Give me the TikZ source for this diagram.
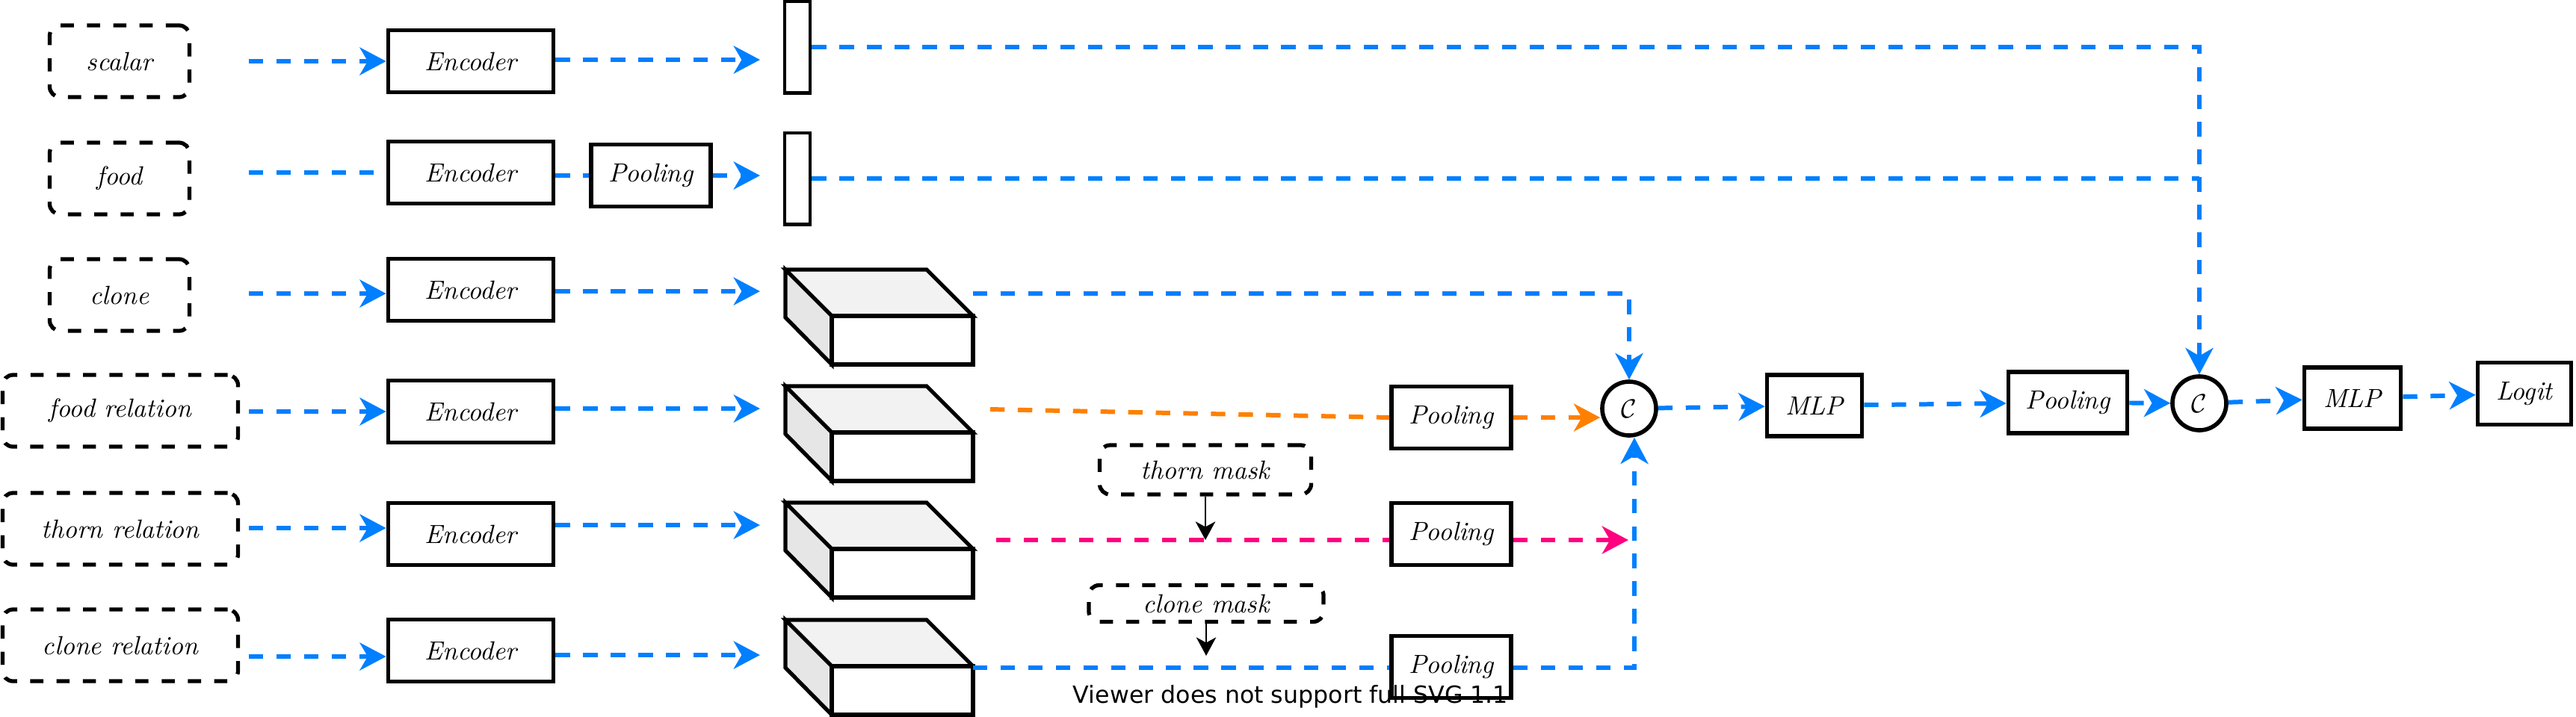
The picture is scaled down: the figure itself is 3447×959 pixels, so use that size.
\documentclass[tikz,border=0pt]{standalone}
\usepackage{fontspec}
\usetikzlibrary{arrows.meta}
\newfontfamily\dejavu{DejaVu Sans}
\definecolor{ablue}{RGB}{0,127,255}
\definecolor{aorange}{RGB}{255,128,0}
\definecolor{apink}{RGB}{255,0,128}
\definecolor{topface}{RGB}{242,242,242}
\definecolor{sideface}{RGB}{230,230,230}
\tikzset{
  inbox/.style={draw, line width=1.5pt, dash pattern=on 5pt off 5pt, rounded corners=4pt,
    minimum height=0.96cm, inner sep=0pt, font=\itshape},
  maskbox/.style={draw, line width=1.5pt, dash pattern=on 5pt off 5pt, rounded corners=4pt,
    inner sep=0pt, font=\itshape},
  blk/.style={draw, line width=1.6pt, minimum height=0.83cm, inner sep=0pt, font=\itshape, fill=white},
  encbox/.style={blk, minimum width=2.21cm},
  poolbox/.style={blk, minimum width=1.60cm},
  barbox/.style={draw, line width=1.4pt, minimum width=0.34cm, minimum height=1.22cm, inner sep=0pt},
  cnode/.style={draw, circle, line width=1.6pt, minimum size=0.72cm, inner sep=0pt},
  flow/.style={line width=1.7pt, dash pattern=on 5.5pt off 5pt},
  bflow/.style={flow, ablue},
  oflow/.style={flow, aorange},
  pflow/.style={flow, apink},
  tip/.style={-{Stealth[length=10pt,width=10.5pt,inset=3pt]}},
  thin/.style={black, line width=0.8pt, -{Stealth[length=7pt,width=7.5pt,inset=2pt]}},
  cubeline/.style={line width=1.5pt},
}
\newcommand{\drawcube}[2]{%
  \filldraw[cubeline, fill=topface] (#1,#2) -- ++(189,0) -- ++(62,62) -- ++(-189,0) -- cycle;
  \filldraw[cubeline, fill=sideface] (#1,#2) -- ++(62,62) -- ++(0,65) -- ++(-62,-63) -- cycle;
  \filldraw[cubeline, fill=white] (#1+62,#2+62) rectangle ++(189,65);
}
\begin{document}
\begin{tikzpicture}[x=0.01cm,y=-0.01cm]
\useasboundingbox (0,0) rectangle (3447,959);

% inputs
\node[inbox, minimum width=1.87cm] (in1) at (160,82) {scalar};
\node[inbox, minimum width=1.87cm] (in2) at (160,239) {food};
\node[inbox, minimum width=1.87cm] (in3) at (160,395) {clone};
\node[inbox, minimum width=3.15cm] (in4) at (161,550) {food relation};
\node[inbox, minimum width=3.15cm] (in5) at (161,708) {thorn relation};
\node[inbox, minimum width=3.15cm] (in6) at (161,864) {clone relation};

% encoders
\node[encbox] (e1) at (630,82) {Encoder};
\node[encbox] (e2) at (630,231) {Encoder};
\node[encbox] (e3) at (630,388) {Encoder};
\node[encbox] (e4) at (630,551) {Encoder};
\node[encbox] (e5) at (630,715) {Encoder};
\node[encbox] (e6) at (630,871) {Encoder};

\node[poolbox] (pool1) at (871,235) {Pooling};

% bars
\node[barbox] (bar1) at (1067,63) {};
\node[barbox] (bar2) at (1067,239) {};

% cubes
\drawcube{1051}{361}
\drawcube{1051}{517}
\drawcube{1051}{673}
\drawcube{1051}{830}

% coordinates
\coordinate (a1) at (333,82);
\coordinate (a2) at (333,231);
\coordinate (a3) at (333,393);
\coordinate (a4) at (333,551);
\coordinate (a5) at (333,707);
\coordinate (a6) at (333,879);
\coordinate (t1) at (1017,80);
\coordinate (t2) at (1017,235);
\coordinate (t3) at (1017,390);
\coordinate (t4) at (1017,547);
\coordinate (t5) at (1017,703);
\coordinate (t6) at (1017,877);
\coordinate (o3) at (1302,393);
\coordinate (o4) at (1325,548);
\coordinate (o5) at (1333,723);
\coordinate (o6) at (1302,894);
\coordinate (pk) at (2179,723);
\coordinate (cmt) at (1614,878);

% middle column
\node[poolbox] (pool4) at (1942,559) {Pooling};
\node[poolbox] (pool5) at (1942,715) {Pooling};
\node[poolbox] (pool6) at (1942,893) {Pooling};
\node[maskbox, minimum width=2.83cm, minimum height=0.66cm] (tm) at (1613,629) {thorn mask};
\node[maskbox, minimum width=3.14cm, minimum height=0.49cm] (cm) at (1614,808) {clone mask};

% right chain
\node[cnode] (c1) at (2180,547) {$\mathcal{C}$};
\node[blk, minimum width=1.27cm, minimum height=0.82cm] (mlp1) at (2428,543) {MLP};
\node[blk, minimum width=1.59cm, minimum height=0.82cm] (pool7) at (2767,539) {Pooling};
\node[cnode] (c2) at (2943,540) {$\mathcal{C}$};
\node[blk, minimum width=1.29cm, minimum height=0.82cm] (mlp2) at (3148,533) {MLP};
\node[blk, minimum width=1.25cm, minimum height=0.83cm] (logit) at (3378,527) {Logit};

% input -> encoder
\draw[bflow, tip] (a1) -- (a1 -| e1.west);
\draw[bflow, shorten >=0.17cm] (a2) -- (a2 -| e2.west);
\draw[bflow, tip] (a3) -- (a3 -| e3.west);
\draw[bflow, tip] (a4) -- (a4 -| e4.west);
\draw[bflow, tip] (a5) -- (a5 -| e5.west);
\draw[bflow, tip] (a6) -- (a6 -| e6.west);

% encoder -> features
\draw[bflow, tip] (e1.east |- t1) -- (t1);
\draw[bflow] (e2.east |- pool1) -- (pool1.west);
\draw[bflow, tip] (pool1.east |- t2) -- (t2);
\draw[bflow, tip] (e3.east |- t3) -- (t3);
\draw[bflow, tip] (e4.east |- t4) -- (t4);
\draw[bflow, tip] (e5.east |- t5) -- (t5);
\draw[bflow, tip] (e6.east |- t6) -- (t6);

% long lines to C2
\draw[bflow, tip] (bar1.east) -| (c2.north);
\draw[bflow] (bar2.east) -- (bar2.east -| c2.north);

% cubes -> C1
\draw[bflow, tip] (o3) -| (c1.north);
\draw[oflow] (o4) -- (pool4.west);
\draw[oflow, tip] (pool4.east) -- (pool4.east -| c1.west);
\draw[pflow] (o5) -- (o5 -| pool5.west);
\draw[pflow, tip] (pool5.east |- o5) -- (pk);
\draw[bflow] (o6) -- (o6 -| pool6.west);
\draw[bflow, tip] (pool6.east |- o6) -| ([xshift=0.07cm]c1.south);

% masks
\draw[thin] (tm.south) -- (tm.south |- o5);
\draw[thin] (cm.south) -- (cmt);

% right chain
\draw[bflow, tip] (c1) -- (mlp1);
\draw[bflow, tip] (mlp1) -- (pool7);
\draw[bflow, tip] (pool7) -- (c2);
\draw[bflow, tip] (c2) -- (mlp2);
\draw[bflow, tip] (mlp2) -- (logit);

\node[font=\dejavu\fontsize{9}{11}\selectfont, inner sep=0pt] (svgnote) at (1727,933) {Viewer does not support full SVG 1.1};
\end{tikzpicture}
\end{document}
